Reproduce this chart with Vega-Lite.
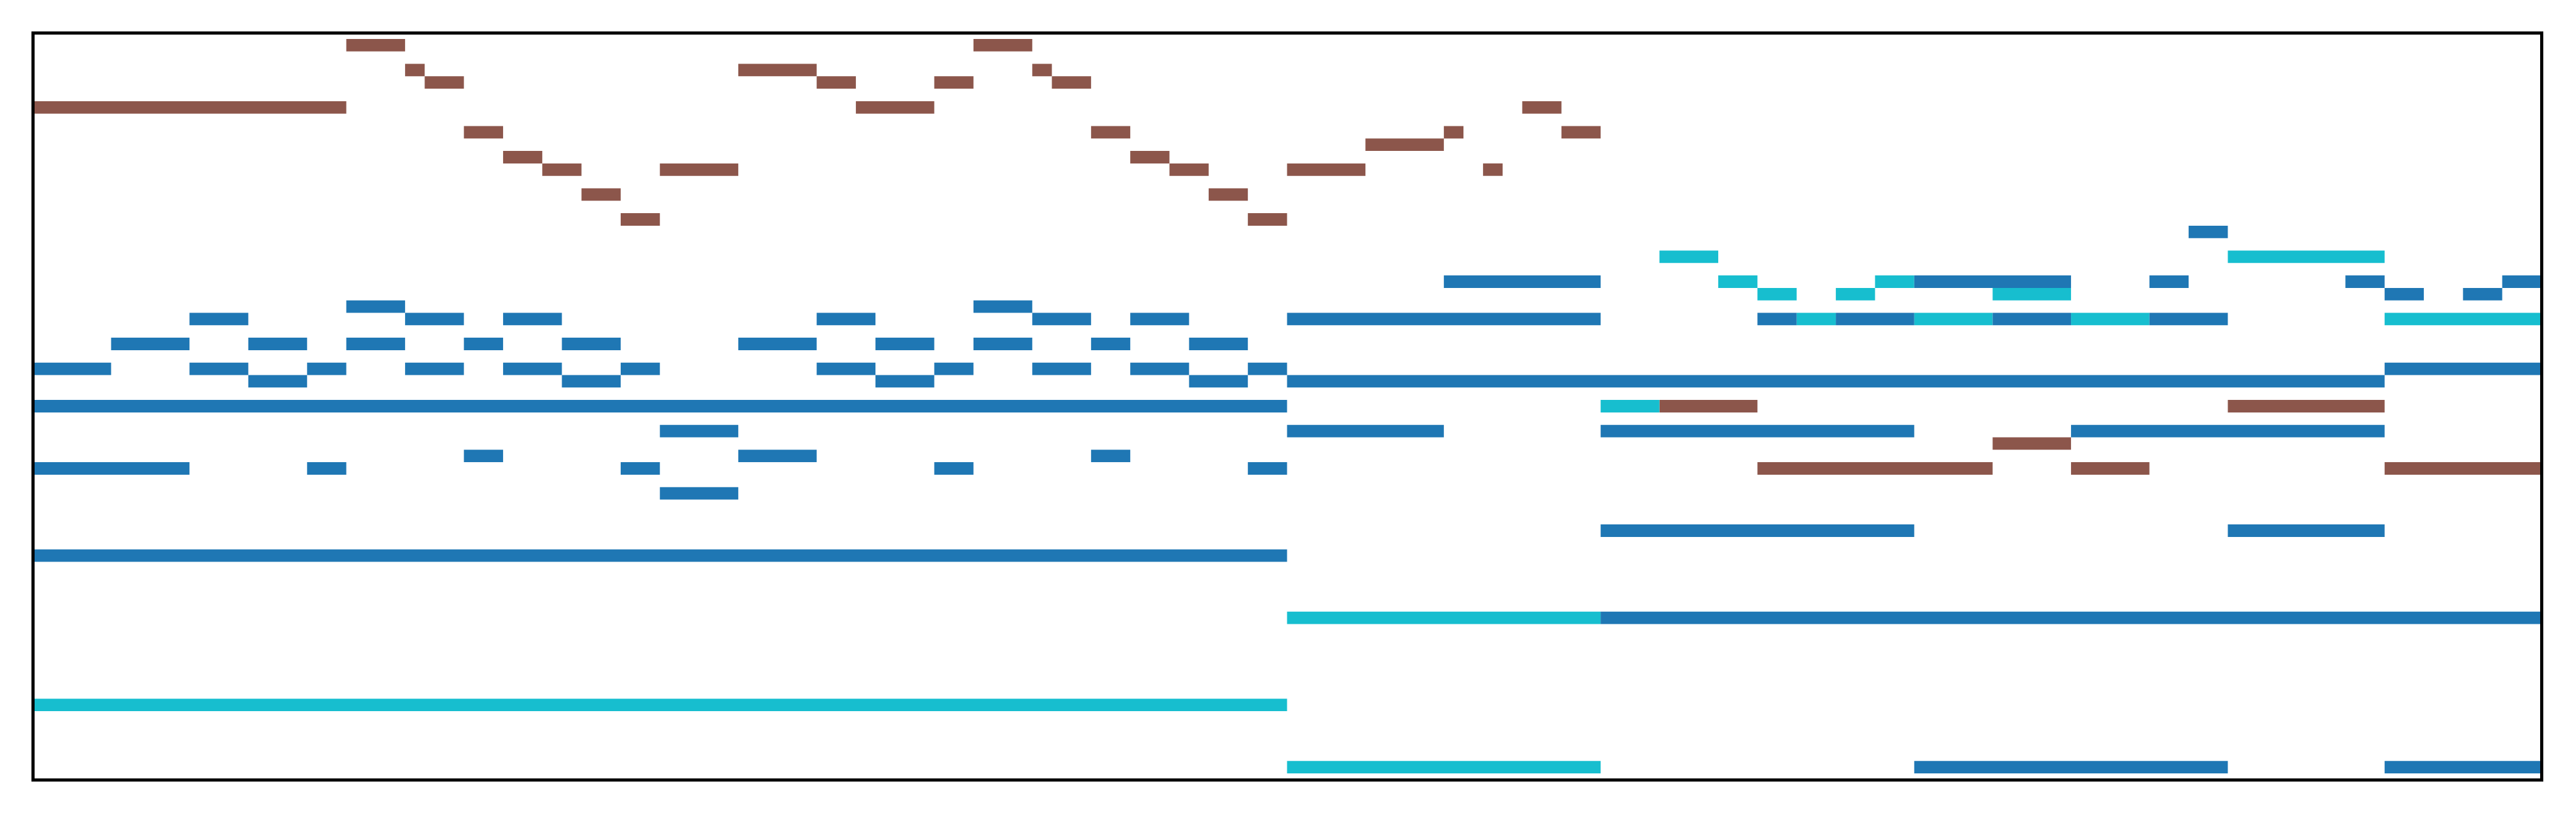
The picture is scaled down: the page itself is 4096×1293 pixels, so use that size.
{
  "$schema": "https://vega.github.io/schema/vega-lite/v6.json",
  "width": 3989,
  "height": 1188,
  "autosize": {"type": "none"},
  "padding": {"left": 52, "top": 52, "right": 55, "bottom": 53},
  "background": "white",
  "config": {"view": {"stroke": null}},
  "data": {"values": [
    {"track": "Track 2", "pitch": 88, "start": 16, "end": 19},
    {"track": "Track 2", "pitch": 88, "start": 48, "end": 51},
    {"track": "Track 2", "pitch": 86, "start": 19, "end": 20},
    {"track": "Track 2", "pitch": 86, "start": 36, "end": 40},
    {"track": "Track 2", "pitch": 86, "start": 51, "end": 52},
    {"track": "Track 2", "pitch": 85, "start": 20, "end": 22},
    {"track": "Track 2", "pitch": 85, "start": 40, "end": 42},
    {"track": "Track 2", "pitch": 85, "start": 46, "end": 48},
    {"track": "Track 2", "pitch": 85, "start": 52, "end": 54},
    {"track": "Track 2", "pitch": 83, "start": 0, "end": 16},
    {"track": "Track 2", "pitch": 83, "start": 42, "end": 46},
    {"track": "Track 2", "pitch": 83, "start": 76, "end": 78},
    {"track": "Track 2", "pitch": 81, "start": 22, "end": 24},
    {"track": "Track 2", "pitch": 81, "start": 54, "end": 56},
    {"track": "Track 2", "pitch": 81, "start": 72, "end": 73},
    {"track": "Track 2", "pitch": 81, "start": 78, "end": 80},
    {"track": "Track 2", "pitch": 80, "start": 68, "end": 72},
    {"track": "Track 2", "pitch": 79, "start": 24, "end": 26},
    {"track": "Track 2", "pitch": 79, "start": 56, "end": 58},
    {"track": "Track 2", "pitch": 78, "start": 26, "end": 28},
    {"track": "Track 2", "pitch": 78, "start": 32, "end": 36},
    {"track": "Track 2", "pitch": 78, "start": 58, "end": 60},
    {"track": "Track 2", "pitch": 78, "start": 64, "end": 68},
    {"track": "Track 2", "pitch": 78, "start": 74, "end": 75},
    {"track": "Track 2", "pitch": 76, "start": 28, "end": 30},
    {"track": "Track 2", "pitch": 76, "start": 60, "end": 62},
    {"track": "Track 2", "pitch": 74, "start": 30, "end": 32},
    {"track": "Track 2", "pitch": 74, "start": 62, "end": 64},
    {"track": "Track 2", "pitch": 59, "start": 83, "end": 88},
    {"track": "Track 2", "pitch": 59, "start": 112, "end": 120},
    {"track": "Track 2", "pitch": 56, "start": 100, "end": 104},
    {"track": "Track 2", "pitch": 54, "start": 88, "end": 100},
    {"track": "Track 2", "pitch": 54, "start": 104, "end": 108},
    {"track": "Track 2", "pitch": 54, "start": 120, "end": 128},
    {"track": "Track 3", "pitch": 71, "start": 83, "end": 86},
    {"track": "Track 3", "pitch": 71, "start": 112, "end": 120},
    {"track": "Track 3", "pitch": 69, "start": 86, "end": 88},
    {"track": "Track 3", "pitch": 69, "start": 94, "end": 96},
    {"track": "Track 3", "pitch": 68, "start": 88, "end": 90},
    {"track": "Track 3", "pitch": 68, "start": 92, "end": 94},
    {"track": "Track 3", "pitch": 68, "start": 100, "end": 104},
    {"track": "Track 3", "pitch": 66, "start": 90, "end": 92},
    {"track": "Track 3", "pitch": 66, "start": 96, "end": 100},
    {"track": "Track 3", "pitch": 66, "start": 104, "end": 108},
    {"track": "Track 3", "pitch": 66, "start": 120, "end": 128},
    {"track": "Track 3", "pitch": 59, "start": 80, "end": 83},
    {"track": "Track 3", "pitch": 42, "start": 64, "end": 80},
    {"track": "Track 3", "pitch": 35, "start": 0, "end": 64},
    {"track": "Track 3", "pitch": 30, "start": 64, "end": 80},
    {"track": "Track 1", "pitch": 73, "start": 110, "end": 112},
    {"track": "Track 1", "pitch": 69, "start": 72, "end": 80},
    {"track": "Track 1", "pitch": 69, "start": 96, "end": 104},
    {"track": "Track 1", "pitch": 69, "start": 108, "end": 110},
    {"track": "Track 1", "pitch": 69, "start": 118, "end": 120},
    {"track": "Track 1", "pitch": 69, "start": 126, "end": 128},
    {"track": "Track 1", "pitch": 68, "start": 120, "end": 122},
    {"track": "Track 1", "pitch": 68, "start": 124, "end": 126},
    {"track": "Track 1", "pitch": 67, "start": 16, "end": 19},
    {"track": "Track 1", "pitch": 67, "start": 48, "end": 51},
    {"track": "Track 1", "pitch": 66, "start": 8, "end": 11},
    {"track": "Track 1", "pitch": 66, "start": 19, "end": 22},
    {"track": "Track 1", "pitch": 66, "start": 24, "end": 27},
    {"track": "Track 1", "pitch": 66, "start": 40, "end": 43},
    {"track": "Track 1", "pitch": 66, "start": 51, "end": 54},
    {"track": "Track 1", "pitch": 66, "start": 56, "end": 59},
    {"track": "Track 1", "pitch": 66, "start": 64, "end": 80},
    {"track": "Track 1", "pitch": 66, "start": 88, "end": 90},
    {"track": "Track 1", "pitch": 66, "start": 92, "end": 96},
    {"track": "Track 1", "pitch": 66, "start": 100, "end": 104},
    {"track": "Track 1", "pitch": 66, "start": 108, "end": 112},
    {"track": "Track 1", "pitch": 64, "start": 4, "end": 8},
    {"track": "Track 1", "pitch": 64, "start": 11, "end": 14},
    {"track": "Track 1", "pitch": 64, "start": 16, "end": 19},
    {"track": "Track 1", "pitch": 64, "start": 22, "end": 24},
    {"track": "Track 1", "pitch": 64, "start": 27, "end": 30},
    {"track": "Track 1", "pitch": 64, "start": 36, "end": 40},
    {"track": "Track 1", "pitch": 64, "start": 43, "end": 46},
    {"track": "Track 1", "pitch": 64, "start": 48, "end": 51},
    {"track": "Track 1", "pitch": 64, "start": 54, "end": 56},
    {"track": "Track 1", "pitch": 64, "start": 59, "end": 62},
    {"track": "Track 1", "pitch": 62, "start": 0, "end": 4},
    {"track": "Track 1", "pitch": 62, "start": 8, "end": 11},
    {"track": "Track 1", "pitch": 62, "start": 14, "end": 16},
    {"track": "Track 1", "pitch": 62, "start": 19, "end": 22},
    {"track": "Track 1", "pitch": 62, "start": 24, "end": 27},
    {"track": "Track 1", "pitch": 62, "start": 30, "end": 32},
    {"track": "Track 1", "pitch": 62, "start": 40, "end": 43},
    {"track": "Track 1", "pitch": 62, "start": 46, "end": 48},
    {"track": "Track 1", "pitch": 62, "start": 51, "end": 54},
    {"track": "Track 1", "pitch": 62, "start": 56, "end": 59},
    {"track": "Track 1", "pitch": 62, "start": 62, "end": 64},
    {"track": "Track 1", "pitch": 62, "start": 120, "end": 128},
    {"track": "Track 1", "pitch": 61, "start": 11, "end": 14},
    {"track": "Track 1", "pitch": 61, "start": 27, "end": 30},
    {"track": "Track 1", "pitch": 61, "start": 43, "end": 46},
    {"track": "Track 1", "pitch": 61, "start": 59, "end": 62},
    {"track": "Track 1", "pitch": 61, "start": 64, "end": 120},
    {"track": "Track 1", "pitch": 59, "start": 0, "end": 64},
    {"track": "Track 1", "pitch": 57, "start": 32, "end": 36},
    {"track": "Track 1", "pitch": 57, "start": 64, "end": 72},
    {"track": "Track 1", "pitch": 57, "start": 80, "end": 96},
    {"track": "Track 1", "pitch": 57, "start": 104, "end": 120},
    {"track": "Track 1", "pitch": 55, "start": 22, "end": 24},
    {"track": "Track 1", "pitch": 55, "start": 36, "end": 40},
    {"track": "Track 1", "pitch": 55, "start": 54, "end": 56},
    {"track": "Track 1", "pitch": 54, "start": 0, "end": 8},
    {"track": "Track 1", "pitch": 54, "start": 14, "end": 16},
    {"track": "Track 1", "pitch": 54, "start": 30, "end": 32},
    {"track": "Track 1", "pitch": 54, "start": 46, "end": 48},
    {"track": "Track 1", "pitch": 54, "start": 62, "end": 64},
    {"track": "Track 1", "pitch": 52, "start": 32, "end": 36},
    {"track": "Track 1", "pitch": 49, "start": 80, "end": 96},
    {"track": "Track 1", "pitch": 49, "start": 112, "end": 120},
    {"track": "Track 1", "pitch": 47, "start": 0, "end": 64},
    {"track": "Track 1", "pitch": 42, "start": 80, "end": 128},
    {"track": "Track 1", "pitch": 30, "start": 96, "end": 112},
    {"track": "Track 1", "pitch": 30, "start": 120, "end": 128}
  ]},
  "layer": [
    {
      "mark": {"type": "rect"},
      "encoding": {
        "x": {"field": "start", "type": "quantitative",
              "scale": {"domain": [0, 128], "nice": false, "zero": false},
              "axis": {"orient": "bottom", "title": null, "labels": false, "ticks": false, "grid": false, "domain": true, "domainColor": "black", "domainWidth": 5, "domainCap": "square", "zindex": 1}},
        "x2": {"field": "end"},
        "y": {"field": "pitch", "type": "ordinal",
              "scale": {"domain": [88,87,86,85,84,83,82,81,80,79,78,77,76,75,74,73,72,71,70,69,68,67,66,65,64,63,62,61,60,59,58,57,56,55,54,53,52,51,50,49,48,47,46,45,44,43,42,41,40,39,38,37,36,35,34,33,32,31,30], "paddingInner": 0, "paddingOuter": 0.5},
              "axis": {"orient": "left", "title": null, "labels": false, "ticks": false, "grid": false, "domain": true, "domainColor": "black", "domainWidth": 5, "domainCap": "square", "zindex": 1}},
        "color": {"field": "track", "type": "nominal",
                  "scale": {"domain": ["Track 1", "Track 2", "Track 3"], "range": ["#1f77b4", "#8c564b", "#17becf"]},
                  "legend": null}
      }
    },
    {
      "mark": {"type": "rect", "opacity": 0},
      "encoding": {
        "x": {"field": "start", "type": "quantitative",
              "axis": {"orient": "top", "title": null, "labels": false, "ticks": false, "grid": false, "domain": true, "domainColor": "black", "domainWidth": 5, "domainCap": "square", "zindex": 1}},
        "x2": {"field": "end"},
        "y": {"field": "pitch", "type": "ordinal",
              "axis": {"orient": "right", "title": null, "labels": false, "ticks": false, "grid": false, "domain": true, "domainColor": "black", "domainWidth": 5, "domainCap": "square", "zindex": 1}}
      }
    }
  ],
  "resolve": {"axis": {"x": "independent", "y": "independent"}}
}
